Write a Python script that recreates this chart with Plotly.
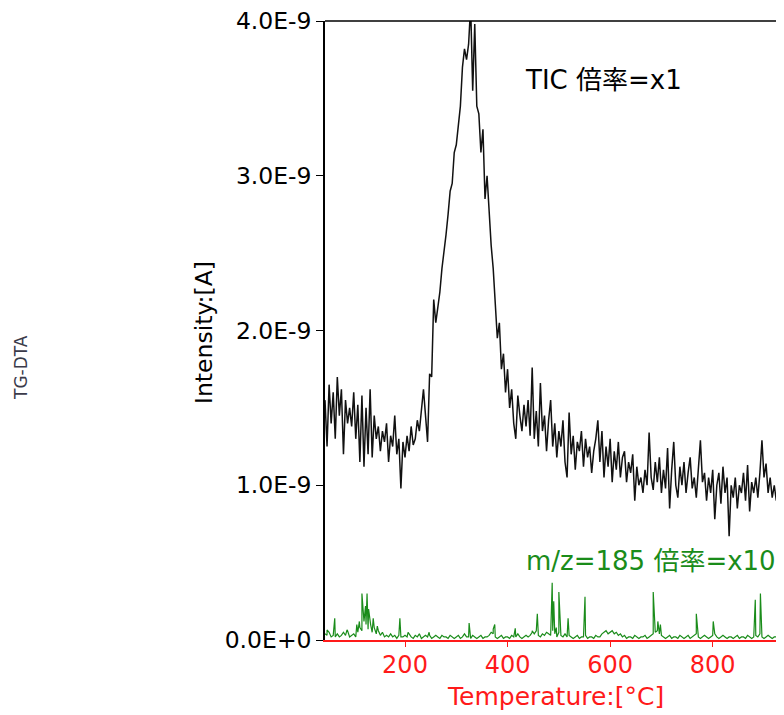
import numpy as np
import plotly.graph_objects as go

# ---------------- data (intensity in units of 1E-9 A) ----------------
T_START = 44      # first sample temperature [°C]
T_STEP = 4        # sampling step [°C]

tic_pre = [1.55, 1.25, 1.65, 1.40, 1.60, 1.30, 1.70, 1.45, 1.62, 1.20,
           1.55, 1.40, 1.50, 1.38, 1.60, 1.30, 1.52, 1.15, 1.58, 1.12,
           1.50, 1.20, 1.62, 1.18, 1.45, 1.30, 1.38, 1.22, 1.35, 1.28,
           1.40, 1.15, 1.32, 1.25, 1.45, 1.20, 1.30, 0.98, 1.28, 1.18,
           1.32, 1.22, 1.38, 1.26, 1.30, 1.42, 1.35, 1.50, 1.62, 1.45,
           1.28, 1.72, 1.70]
tic_peak = [2.20, 2.05, 2.15, 2.25, 2.40, 2.50, 2.62, 2.75, 2.90, 2.95,
            3.15, 3.20, 3.35, 3.45, 3.70, 3.82, 3.75, 3.85, 4.10, 3.55,
            3.98, 3.45, 3.40, 3.15, 3.30, 2.85, 3.00, 2.75, 2.55, 2.40,
            2.15, 1.95, 2.05, 1.75, 1.85, 1.60, 1.75, 1.50, 1.62, 1.40]
tic_post = [1.30, 1.58, 1.45, 1.35, 1.52, 1.38, 1.55, 1.32, 1.76, 1.30,
            1.48, 1.25, 1.66, 1.35, 1.45, 1.22, 1.42, 1.55, 1.25, 1.40,
            1.18, 1.35, 1.25, 1.42, 1.15, 1.05, 1.47, 1.20, 1.32, 1.10,
            1.28, 1.22, 1.35, 1.12, 1.30, 1.18, 1.25, 1.08, 1.22, 1.30,
            1.42, 1.15, 1.35, 1.05, 1.25, 1.12, 1.30, 1.02, 1.22, 1.10,
            1.28, 1.05, 1.18, 1.22, 1.02, 1.15, 1.08, 1.20, 0.90, 1.12,
            1.00, 1.05, 0.95, 1.10, 1.00, 1.34, 1.05, 0.97, 1.15, 1.02,
            1.18, 0.95, 1.10, 0.98, 1.24, 0.85, 1.10, 1.28, 1.00, 0.92,
            1.12, 1.00, 1.15, 0.95, 1.08, 1.18, 0.98, 1.05, 0.92, 1.10,
            1.29, 1.02, 1.08, 0.90, 1.05, 0.95, 1.10, 0.78, 1.00, 1.08,
            0.88, 1.12, 0.95, 1.05, 0.67, 1.00, 0.92, 1.05, 0.85, 1.00,
            0.95, 1.08, 0.90, 1.13, 0.83, 1.02, 0.95, 1.05, 0.92, 1.08,
            1.29, 1.05, 1.14, 0.95, 1.05, 0.92, 1.00, 0.90, 1.02, 0.95,
            1.20, 0.85]
tic_values = tic_pre + tic_peak + tic_post

# m/z=185 (x10) baseline on the same grid
mz_base = [0.04, 0.03, 0.05, 0.02, 0.03, 0.02, 0.04, 0.02, 0.03, 0.05,
           0.03, 0.06, 0.02, 0.03, 0.04, 0.02, 0.05, 0.08, 0.06, 0.12,
           0.10, 0.07, 0.11, 0.05, 0.08, 0.04, 0.06, 0.03, 0.05, 0.02,
           0.03, 0.02, 0.04, 0.02, 0.03, 0.01, 0.03, 0.02, 0.02, 0.03,
           0.02, 0.04, 0.02, 0.01, 0.03, 0.02, 0.04, 0.01, 0.02, 0.03,
           0.02, 0.03, 0.01, 0.02, 0.03, 0.02, 0.01, 0.03, 0.02, 0.02,
           0.01, 0.03, 0.02, 0.01, 0.02, 0.03, 0.01, 0.02, 0.04, 0.02,
           0.02, 0.01, 0.03, 0.02, 0.01, 0.02, 0.03, 0.01, 0.02, 0.02,
           0.03, 0.05, 0.04, 0.02, 0.01, 0.02, 0.03, 0.01, 0.02, 0.02,
           0.01, 0.03, 0.02, 0.02, 0.04, 0.02, 0.01, 0.02, 0.03, 0.02,
           0.03, 0.05, 0.04, 0.06, 0.03, 0.02, 0.04, 0.03, 0.05, 0.04,
           0.03, 0.06, 0.04, 0.02, 0.05, 0.03, 0.02, 0.04, 0.02, 0.03,
           0.02, 0.01, 0.02, 0.03, 0.01, 0.02, 0.02, 0.03, 0.01, 0.02,
           0.02, 0.01, 0.03, 0.02, 0.02, 0.04, 0.05, 0.06, 0.04, 0.05,
           0.06, 0.04, 0.05, 0.03, 0.04, 0.02, 0.03, 0.01, 0.02, 0.02,
           0.01, 0.03, 0.02, 0.01, 0.02, 0.02, 0.03, 0.01, 0.02, 0.03,
           0.04, 0.05, 0.06, 0.04, 0.03, 0.02, 0.01, 0.02, 0.03, 0.01,
           0.02, 0.02, 0.01, 0.03, 0.02, 0.01, 0.02, 0.03, 0.01, 0.02,
           0.03, 0.04, 0.02, 0.01, 0.02, 0.03, 0.02, 0.01, 0.02, 0.03,
           0.04, 0.02, 0.01, 0.02, 0.03, 0.02, 0.01, 0.02, 0.02, 0.01,
           0.02, 0.03, 0.01, 0.02, 0.02, 0.01, 0.03, 0.02, 0.01, 0.02,
           0.03, 0.02, 0.04, 0.02, 0.01, 0.02, 0.03, 0.02, 0.01, 0.02,
           0.02, 0.03, 0.01, 0.04, 0.02]
# m/z=185 (x10) spikes
mz_spike_temps = [48, 63, 87, 106, 111, 116, 119, 123, 126, 129, 133, 138, 146,
                  190, 206, 247, 325, 372, 375, 415, 448, 458, 487, 490, 495,
                  500, 518, 551, 684, 693, 698, 768, 801, 883, 893, 938]
mz_spike_values = [0.065, 0.14, 0.065, 0.10, 0.12, 0.30, 0.15, 0.22, 0.30, 0.20,
                   0.10, 0.14, 0.09, 0.14, 0.05, 0.05, 0.11, 0.07, 0.10, 0.075,
                   0.06, 0.17, 0.37, 0.25, 0.08, 0.31, 0.14, 0.28, 0.31, 0.12,
                   0.10, 0.17, 0.12, 0.26, 0.30, 0.30]

y_tick_values = [0, 1, 2, 3, 4]          # in units of 1E-9 A
y_tick_labels = ["0.0E+0", "1.0E-9", "2.0E-9", "3.0E-9", "4.0E-9"]
x_tick_values = [200, 400, 600, 800]

# ---------------- build ----------------
tic_temps = T_START + T_STEP * np.arange(len(tic_values))

base_temps = T_START + T_STEP * np.arange(len(mz_base))
mz_t = np.concatenate([base_temps, np.array(mz_spike_temps, dtype=float)])
mz_v = np.concatenate([np.array(mz_base), np.array(mz_spike_values)])
order = np.argsort(mz_t, kind="stable")
mz_t = mz_t[order]
mz_v = mz_v[order]

FONT = "DejaVu Sans, Noto Sans CJK JP, sans-serif"
GREEN = "#1a8c1a"
RED = "#ff1a1a"

fig = go.Figure()
fig.add_trace(go.Scatter(x=tic_temps, y=tic_values, mode="lines",
                         line=dict(color="#111111", width=1.5), showlegend=False))
fig.add_trace(go.Scatter(x=mz_t, y=mz_v, mode="lines",
                         line=dict(color=GREEN, width=1.2), showlegend=False))

OFF = 8  # page body margin
W, H = 784 - OFF, 715 - OFF
L, R, T, B = 325 - OFF, 0, 21 - OFF, 75
pw, ph = W - L - R, H - T - B


def px(xp):
    return (xp - OFF - L) / pw


def py(yp):
    return (H - B - (yp - OFF)) / ph


fig.update_layout(
    width=W, height=H,
    margin=dict(l=L, r=R, t=T, b=B, pad=0),
    paper_bgcolor="white", plot_bgcolor="white",
    font=dict(family=FONT, size=23, color="black"),
    xaxis=dict(range=[44, 939], tickvals=x_tick_values,
               ticks="outside", ticklen=5, tickwidth=1.3, tickcolor=RED,
               tickfont=dict(color=RED, size=24, family=FONT),
               ticklabelstandoff=-3, ticklabeloverflow="allow",
               showline=True, linecolor=RED, linewidth=1.5,
               showgrid=False, zeroline=False),
    yaxis=dict(range=[0, 4], tickvals=y_tick_values, ticktext=y_tick_labels,
               ticks="outside", ticklen=7, tickwidth=1.3, tickcolor="black",
               tickfont=dict(color="black", size=23.5, family=FONT),
               ticklabeloverflow="allow",
               showline=True, linecolor="black", linewidth=1.5,
               showgrid=False, zeroline=False),
    shapes=[dict(type="line", xref="paper", yref="paper", x0=0, x1=1, y0=1, y1=1,
                 line=dict(color="black", width=1.5))],
    annotations=[
        dict(text="Intensity:[A]", xref="paper", yref="paper", x=px(204), y=py(333),
             textangle=-90, showarrow=False, xanchor="center", yanchor="middle",
             font=dict(size=23.5, color="black", family=FONT)),
        dict(text="Temperature:[°C]", xref="paper", yref="paper", x=px(555), y=py(696),
             showarrow=False, xanchor="center", yanchor="middle",
             font=dict(size=25, color=RED, family=FONT)),
        dict(text="TG-DTA", xref="paper", yref="paper", x=px(21), y=py(368),
             textangle=-90, showarrow=False, xanchor="center", yanchor="middle",
             font=dict(size=17, color="#3a3a4a", family=FONT)),
        dict(text="TIC 倍率=x1", xref="paper", yref="paper", x=px(603), y=py(80),
             showarrow=False, xanchor="center", yanchor="middle",
             font=dict(size=26, color="black", family=FONT)),
        dict(text="m/z=185 倍率=x10", xref="paper", yref="paper", x=px(651), y=py(561),
             showarrow=False, xanchor="center", yanchor="middle",
             font=dict(size=26, color=GREEN, family=FONT)),
    ],
)

fig.write_html("out.html")
